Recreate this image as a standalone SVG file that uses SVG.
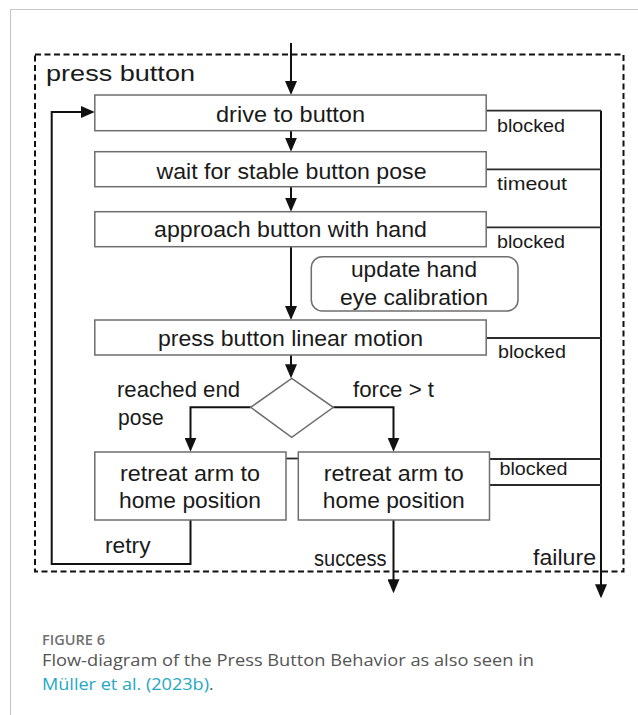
<svg xmlns="http://www.w3.org/2000/svg" width="638" height="715" viewBox="0 0 638 715">
<style>
.card{fill:none;stroke:#c8c8c8;stroke-width:1.2}
.frame{fill:none;stroke:#111;stroke-width:2;stroke-dasharray:6 3.5}
.box{fill:#fff;stroke:#6e6e6e;stroke-width:1.5}
.con{fill:none;stroke:#111;stroke-width:2}
.side{fill:none;stroke:#2a2a2a;stroke-width:1.8}
.t{font-family:"Liberation Sans",Arial,sans-serif;font-size:22px;fill:#1a1a1a}
.c{text-anchor:middle}
.lbl{font-family:"Liberation Sans",Arial,sans-serif;font-size:18.5px;fill:#1a1a1a}
.cap{font-family:"Open Sans","Liberation Sans",sans-serif}
</style>
<defs>
<marker id="ah" markerUnits="userSpaceOnUse" markerWidth="14" markerHeight="12" refX="10" refY="6" orient="auto">
<path d="M0,0L14,6L0,12z" fill="#111"/>
</marker>
</defs>
<rect width="638" height="715" fill="#fff"/>
<path class="card" d="M10.5,715V9.5H638"/>

<g id="frame">
<rect class="frame" x="35" y="54.5" width="588.5" height="517"/>
<text class="t" x="46" y="81" font-size="26" textLength="149" lengthAdjust="spacingAndGlyphs">press button</text>
</g>

<g id="connectors">
<path class="con" d="M291,43V91" marker-end="url(#ah)"/>
<path class="con" d="M291,130.7V147.7" marker-end="url(#ah)"/>
<path class="con" d="M291,186.7V207.7" marker-end="url(#ah)"/>
<path class="con" d="M291,246.7V316" marker-end="url(#ah)"/>
<path class="con" d="M291,355V374.3" marker-end="url(#ah)"/>
<path class="con" d="M250.7,407.3H190.5V447.7" marker-end="url(#ah)"/>
<path class="con" d="M333.3,407.3H393.5V447.7" marker-end="url(#ah)"/>
<path class="side" d="M286,458.5H298.3"/>
<path class="con" d="M190.5,520V564H51.7V112H90.8" marker-end="url(#ah)"/>
<path class="con" d="M393.5,520V589.3" marker-end="url(#ah)"/>
<path class="con" d="M601,110.7V594.3" marker-end="url(#ah)"/>
<path class="side" d="M486.2,110.7H601M486.2,169.3H601M486.2,227.3H601M486.2,338H601M489.5,459H601M489.5,485H601"/>
<text class="lbl" x="497" y="131.5" textLength="68" lengthAdjust="spacingAndGlyphs">blocked</text>
<text class="lbl" x="497" y="190" textLength="70" lengthAdjust="spacingAndGlyphs">timeout</text>
<text class="lbl" x="497" y="248.3" textLength="68" lengthAdjust="spacingAndGlyphs">blocked</text>
<text class="lbl" x="498" y="358.3" textLength="68" lengthAdjust="spacingAndGlyphs">blocked</text>
<text class="lbl" x="499.5" y="475" textLength="68" lengthAdjust="spacingAndGlyphs">blocked</text>
<text class="t" x="117" y="396.5" textLength="123" lengthAdjust="spacingAndGlyphs">reached end</text>
<text class="t" x="118" y="425" textLength="45.6" lengthAdjust="spacingAndGlyphs">pose</text>
<text class="t" x="353" y="396.5" textLength="81" lengthAdjust="spacingAndGlyphs">force &gt; t</text>
<text class="t" x="105" y="553" textLength="45.5" lengthAdjust="spacingAndGlyphs">retry</text>
<text class="t" x="314" y="566" textLength="72.5" lengthAdjust="spacingAndGlyphs">success</text>
<text class="t" x="533" y="565" textLength="63" lengthAdjust="spacingAndGlyphs">failure</text>
</g>

<g id="drive">
<rect class="box" x="94.8" y="95" width="391.4" height="35.7"/>
<text class="t c" x="290.5" y="121.5" textLength="149" lengthAdjust="spacingAndGlyphs">drive to button</text>
</g>
<g id="wait">
<rect class="box" x="94.8" y="151.7" width="391.4" height="35"/>
<text class="t c" x="291.5" y="178.5" textLength="270" lengthAdjust="spacingAndGlyphs">wait for stable button pose</text>
</g>
<g id="approach">
<rect class="box" x="94.8" y="211.7" width="391.4" height="35"/>
<text class="t c" x="290.5" y="236.5" textLength="273" lengthAdjust="spacingAndGlyphs">approach button with hand</text>
</g>
<g id="calib">
<rect class="box" x="311.3" y="256.7" width="206.7" height="54.3" rx="11"/>
<text class="t c" x="414" y="277" textLength="126" lengthAdjust="spacingAndGlyphs">update hand</text>
<text class="t c" x="414" y="305" textLength="148" lengthAdjust="spacingAndGlyphs">eye calibration</text>
</g>
<g id="press">
<rect class="box" x="94.8" y="320" width="391.4" height="35"/>
<text class="t c" x="290.5" y="345.5" textLength="265" lengthAdjust="spacingAndGlyphs">press button linear motion</text>
</g>
<g id="decision">
<path class="box" d="M291.7,378.3L333.3,407.3L291.7,437.3L250.7,407.3Z" stroke="#444"/>
</g>
<g id="retreat1">
<rect class="box" x="94.8" y="452" width="191.2" height="68"/>
<text class="t c" x="190" y="480.5" textLength="140" lengthAdjust="spacingAndGlyphs">retreat arm to</text>
<text class="t c" x="190" y="508" textLength="142" lengthAdjust="spacingAndGlyphs">home position</text>
</g>
<g id="retreat2">
<rect class="box" x="298.3" y="452" width="191.2" height="68"/>
<text class="t c" x="393.8" y="480.5" textLength="140" lengthAdjust="spacingAndGlyphs">retreat arm to</text>
<text class="t c" x="393.8" y="508" textLength="142" lengthAdjust="spacingAndGlyphs">home position</text>
</g>

<g id="caption">
<text class="cap" x="42" y="645" font-size="14.5" font-weight="600" fill="#707070" textLength="63" lengthAdjust="spacingAndGlyphs">FIGURE 6</text>
<text class="cap" x="42" y="666" font-size="17" fill="#555" textLength="492" lengthAdjust="spacingAndGlyphs">Flow-diagram of the Press Button Behavior as also seen in</text>
<text class="cap" x="42" y="690" font-size="17" fill="#1ea8c4"><tspan textLength="167" lengthAdjust="spacingAndGlyphs">Müller et al. (2023b)</tspan><tspan fill="#555">.</tspan></text>
</g>
</svg>
